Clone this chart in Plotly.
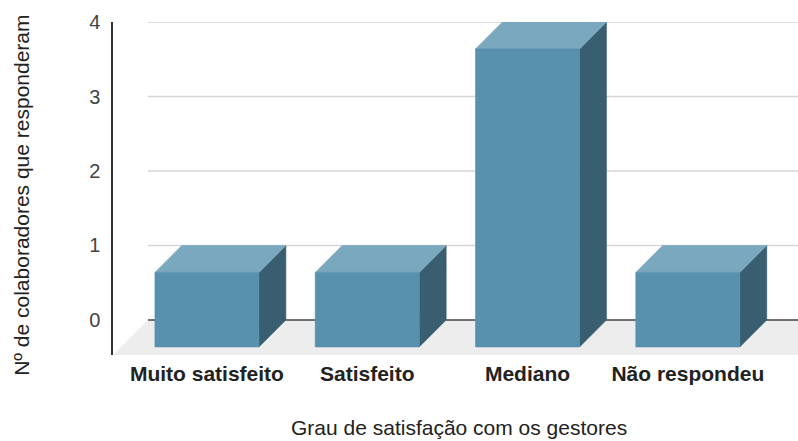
import plotly.graph_objects as go

# ---- data ----
categories = ["Muito satisfeito", "Satisfeito", "Mediano", "Não respondeu"]
values = [1, 1, 4, 1]
y_ticks = [0, 1, 2, 3, 4]
y_title = "Nº de colaboradores que responderam"
x_title = "Grau de satisfação com os gestores"

# ---- pseudo-3D geometry (data units) ----
BAR_W = 0.649          # front face width
BAR_DX, BAR_DY = 0.168, 0.362    # bar depth projection
FLOOR_DX, FLOOR_DY = 0.218, 0.470  # floor depth projection
X_RANGE = [-0.586, 3.6875]
Y_RANGE = [-FLOOR_DY, 4.0]

C_FRONT = "rgb(87,145,174)"
C_TOP = "rgb(122,168,191)"
C_SIDE = "rgb(57,94,112)"
C_FLOOR = "#ededed"
C_GRID = "#d6d6d6"

FONT = "Liberation Sans, Arial, sans-serif"

fig = go.Figure()

shapes = []
# floor
fx0 = X_RANGE[0]
fx1 = len(categories) - 1 + 0.856
shapes.append(dict(
    type="path", xref="x", yref="y", layer="below",
    path=f"M {fx0},{-FLOOR_DY} L {fx1},{-FLOOR_DY} L {fx1 + FLOOR_DX},0 L {fx0 + FLOOR_DX},0 Z",
    fillcolor=C_FLOOR, line=dict(width=0)))
# gridlines on back wall
for t in y_ticks:
    shapes.append(dict(
        type="line", xref="x", yref="y", layer="below",
        x0=fx0 + FLOOR_DX, x1=X_RANGE[1] + 0.5, y0=t, y1=t,
        line=dict(color="#444444" if t == 0 else C_GRID, width=1.5)))

def face(xs, ys, color):
    fig.add_trace(go.Scatter(
        x=xs + [xs[0]], y=ys + [ys[0]], mode="lines", fill="toself",
        fillcolor=color, line=dict(color=color, width=0.6),
        hoverinfo="skip", showlegend=False))

for i, v in enumerate(values):
    xl, xr = i - BAR_W / 2, i + BAR_W / 2
    yb, yt = -BAR_DY, v - BAR_DY
    # side
    face([xr, xr + BAR_DX, xr + BAR_DX, xr], [yb, 0, v, yt], C_SIDE)
    # top
    face([xl, xr, xr + BAR_DX, xl + BAR_DX], [yt, yt, v, v], C_TOP)
    # front
    face([xl, xr, xr, xl], [yb, yb, yt, yt], C_FRONT)

fig.update_layout(
    width=798, height=441,
    margin=dict(l=113, r=0, t=22, b=86),
    paper_bgcolor="white", plot_bgcolor="white",
    shapes=shapes,
    font=dict(family=FONT, color="#222222"),
    xaxis=dict(range=X_RANGE, showgrid=False, zeroline=False, showline=False,
               tickmode="array", tickvals=list(range(len(categories))),
               ticktext=[f"<b>{c}</b>" for c in categories],
               tickfont=dict(size=21, color="#222222", family=FONT),
               ticks="", ticklabelstandoff=4, fixedrange=True),
    yaxis=dict(range=Y_RANGE, showgrid=False, zeroline=False, showline=True,
               linecolor="#333333", linewidth=1.5,
               tickmode="array", tickvals=y_ticks,
               tickfont=dict(size=20, color="#444444", family=FONT),
               ticks="", ticklabelstandoff=7, fixedrange=True),
    annotations=[
        dict(text=y_title, xref="paper", yref="paper", x=-0.1328, y=0.478,
             textangle=-90, showarrow=False, xanchor="center", yanchor="middle",
             font=dict(size=21, color="#222222", family=FONT)),
        dict(text=x_title, xref="paper", yref="paper", x=0.505, y=-0.219,
             showarrow=False, xanchor="center", yanchor="middle",
             font=dict(size=21, color="#222222", family=FONT)),
    ],
)

fig.write_html("out.html")
